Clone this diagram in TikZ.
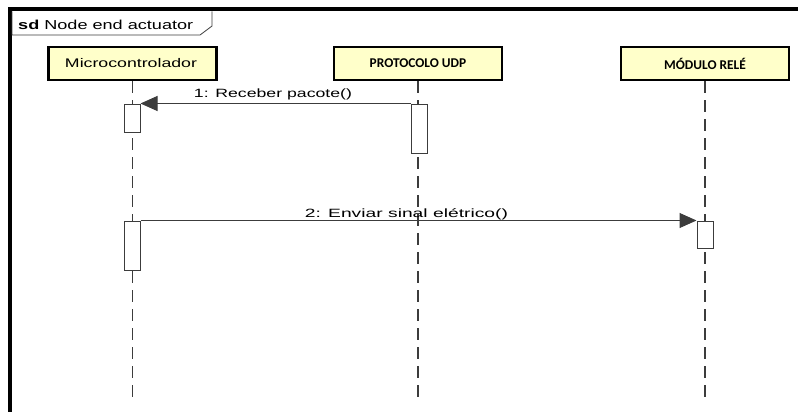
\documentclass[tikz,border=0pt]{standalone}
\usepackage{fontspec}
\setmainfont{Liberation Sans}
\newfontfamily\calb{Carlito}
\usetikzlibrary{arrows.meta}
\definecolor{boxyellow}{HTML}{FFFFCA}
\definecolor{linegray}{HTML}{3C3C3C}
\newcommand{\wide}[2]{\resizebox{#1pt}{\height}{#2}}
\begin{document}
\begin{tikzpicture}[x=1pt,y=-1pt,
  lifebox/.style={draw=black,line width=2.6pt,fill=boxyellow,minimum width=168pt,minimum height=33pt,inner sep=0pt},
  act/.style={draw=linegray,line width=1pt,fill=white,minimum width=16pt,inner sep=0pt},
  life/.style={draw=linegray,line width=1.1pt,dash pattern=on 12pt off 7pt},
  msg/.style={draw=linegray,line width=1pt,-{Triangle[length=17pt,width=15pt]}},
  msglabel/.style={font=\fontsize{12}{14}\selectfont,inner sep=0pt,anchor=base},
  frameline/.style={draw=black,line width=4pt}
]
\useasboundingbox (0,0) rectangle (798,412);
% frame
\draw[frameline] (10,412) -- (10,9.5) -- (798,9.5);
\draw[linegray,line width=0.8pt,fill=white] (12,11.5) -- (12,35) -- (200,35) -- (212,26) -- (212,11.5);
\node[anchor=base west,inner sep=0pt,font=\fontsize{13}{15}\selectfont] (title) at (18,29.5) {\wide{175}{\textbf{sd} Node end actuator}};
% lifeline heads
\node[lifebox] (mic) at (132.5,63.5) {};
\node[anchor=base,inner sep=0pt,font=\fontsize{12.5}{15}\selectfont] (mictext) at (131,67) {\wide{132}{Microcontrolador}};
\node[lifebox,font=\calb\bfseries\fontsize{13.4}{16}\selectfont] (udp) at (418,63.5) {PROTOCOLO UDP};
\node[lifebox,font=\calb\bfseries\fontsize{13.4}{16}\selectfont] (rel) at (705,63.5) {MÓDULO RELÉ};
% lifelines
\coordinate (bottom) at (0,398);
\draw[life] (mic.south) -- (mic.south |- bottom);
\draw[life] (udp.south) -- (udp.south |- bottom);
\draw[life] (rel.south) -- (rel.south |- bottom);
% activations
\node[act,minimum height=28pt] (a1) at (132,118) {};
\node[act,minimum height=49pt] (p1) at (419.5,128.5) {};
\node[act,minimum height=49pt] (a2) at (132,245.5) {};
\node[act,minimum height=27pt] (m1) at (705,234.5) {};
% messages
\draw[msg] (p1.north west) -- (a1.north east);
\draw[msg] (a2.north east) -- (m1.north west);
\node[msglabel] (l1) at (273,97) {\wide{158}{1: Receber pacote()}};
\node[msglabel] (l2) at (406.5,217) {\wide{203}{2: Enviar sinal elétrico()}};
\end{tikzpicture}
\end{document}
